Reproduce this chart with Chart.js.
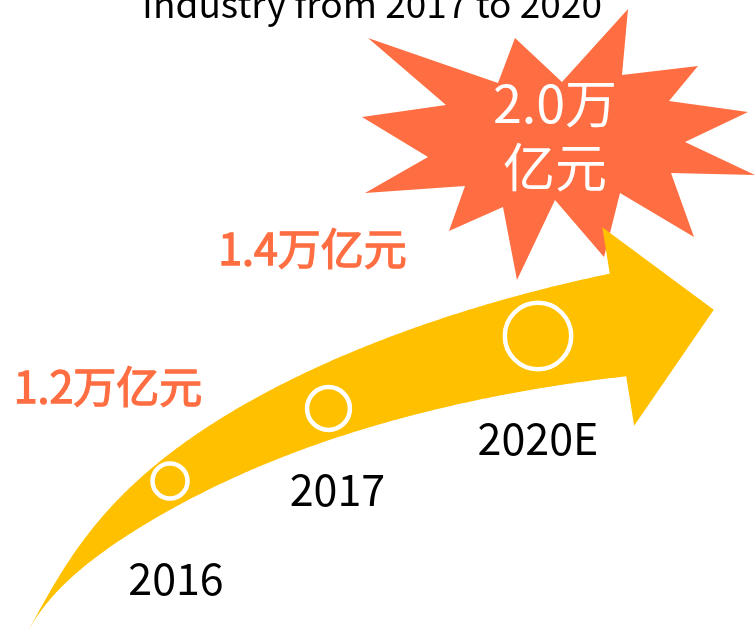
<!DOCTYPE html>
<html>
<head>
<meta charset="utf-8">
<script src="https://cdn.jsdelivr.net/npm/chart.js@4.4.1/dist/chart.umd.min.js"></script>
<style>
  html, body { margin: 0; padding: 0; background: #fff; }
  #wrap { width: 755px; height: 631px; position: relative; overflow: hidden; }
</style>
</head>
<body>
<div id="wrap"><canvas id="chartGrowth"></canvas></div>
<script>
// ---- data
const title = "Industry from 2017 to 2020";
const years = ["2016", "2017", "2020E"];
const yearNums = [2016, 2017, 2020];
const values = [1.2, 1.4, 2.0];
const unit = "万亿元";

// ---- styles
const yellow = "#FFC000";
const orange = "#FF6E42";
const font = '"Noto Sans CJK SC", "Noto Sans", sans-serif';

// label placement relative to each point (x center, text baseline)
const valueLabelPos = [
  { dx: -62, dy: -78 },
  { dx: -16, dy: -144 },
  { dx: 17, dy: -213, dy2: -149 },
];
const yearLabelPos = [
  { dx: 6, dy: 114 },
  { dx: 9, dy: 97 },
  { dx: 0, dy: 119 },
];

// starburst outline around the 2020E callout, relative to that point
const star = [
  [-170, -298], [-40, -253], [-23, -298], [24, -254], [90, -327], [84, -261],
  [160, -270], [131, -235], [210, -224], [147, -194], [217, -161], [133, -163],
  [156, -99], [82, -143], [66, -79], [17, -136], [-21, -56], [-35, -129],
  [-89, -105], [-73, -150], [-173, -143], [-110, -179], [-176, -219], [-92, -231],
];

///////// helpers
function dist(a, b) {
  return Math.hypot(b.x - a.x, b.y - a.y) || 1e-6;
}

function bezier(T, C1, C2, H) {
  return (t) => {
    const m = 1 - t;
    const b0 = m * m * m, b1 = 3 * m * m * t, b2 = 3 * m * t * t, b3 = t * t * t;
    return {
      x: b0 * T.x + b1 * C1.x + b2 * C2.x + b3 * H.x,
      y: b0 * T.y + b1 * C1.y + b2 * C2.y + b3 * H.y,
    };
  };
}

// one smooth cubic from first to last point, weighted least squares on the inner
// points, refined by re-projecting the points on the curve a few times
function fitCubic(q, weights) {
  const n = q.length;
  const T = q[0], H = q[n - 1];
  const len = [0];
  for (let i = 1; i < n; i++) len.push(len[i - 1] + dist(q[i - 1], q[i]));
  let params = len.map((l) => l / len[n - 1]);
  let curve;
  for (let iter = 0; iter < 10; iter++) {
    let a11 = 0, a12 = 0, a22 = 0;
    const r1 = { x: 0, y: 0 }, r2 = { x: 0, y: 0 };
    for (let i = 1; i < n - 1; i++) {
      const t = params[i], m = 1 - t, w = weights[i - 1];
      const b0 = m * m * m, b1 = 3 * m * m * t, b2 = 3 * m * t * t, b3 = t * t * t;
      const rx = q[i].x - b0 * T.x - b3 * H.x;
      const ry = q[i].y - b0 * T.y - b3 * H.y;
      a11 += w * b1 * b1; a12 += w * b1 * b2; a22 += w * b2 * b2;
      r1.x += w * b1 * rx; r1.y += w * b1 * ry;
      r2.x += w * b2 * rx; r2.y += w * b2 * ry;
    }
    const det = a11 * a22 - a12 * a12;
    const C1 = { x: (a22 * r1.x - a12 * r2.x) / det, y: (a22 * r1.y - a12 * r2.y) / det };
    const C2 = { x: (a11 * r2.x - a12 * r1.x) / det, y: (a11 * r2.y - a12 * r1.y) / det };
    curve = bezier(T, C1, C2, H);
    params = params.map((p, i) => {
      if (i === 0 || i === n - 1) return p;
      let best = p, bd = Infinity;
      for (let k = 1; k < 1000; k++) {
        const d = dist(curve(k / 1000), q[i]);
        if (d < bd) { bd = d; best = k / 1000; }
      }
      return best;
    });
  }
  return curve;
}

function drawArrow(ctx, pts) {
  const p1 = pts[0], p3 = pts[pts.length - 1];
  const tail = { x: p1.x - 143, y: p1.y + 152 };
  const head = { x: p3.x + 80, y: p3.y - 11 };
  const curve = fitCubic([tail, ...pts.map((p) => ({ x: p.x, y: p.y })), head], [2, 1, 1.5]);

  const c = [];
  for (let i = 0; i <= 300; i++) c.push(curve(i / 300));
  const s = [0];
  for (let i = 1; i < c.length; i++) s.push(s[i - 1] + dist(c[i - 1], c[i]));
  const L = s[s.length - 1];
  const wMax = 52;
  const half = (u) => wMax * Math.pow(u, 0.62) * (1 - Math.exp(-Math.pow(u / 0.15, 1.5)));

  const upper = [], lower = [];
  let tx = 1, ty = 0;
  for (let i = 0; i < c.length; i++) {
    const a = c[Math.max(0, i - 1)], b = c[Math.min(c.length - 1, i + 1)];
    const d = dist(a, b);
    tx = (b.x - a.x) / d;
    ty = (b.y - a.y) / d;
    const w = half(s[i] / L);
    upper.push({ x: c[i].x + ty * w, y: c[i].y - tx * w });
    lower.push({ x: c[i].x - ty * w, y: c[i].y + tx * w });
  }
  const nx = ty, ny = -tx; // normal pointing to upper side
  const uEnd = upper[upper.length - 1], lEnd = lower[lower.length - 1];
  const end = c[c.length - 1];

  ctx.save();
  ctx.fillStyle = yellow;
  ctx.beginPath();
  ctx.moveTo(upper[0].x, upper[0].y);
  upper.forEach((p) => ctx.lineTo(p.x, p.y));
  ctx.lineTo(uEnd.x + nx * 47, uEnd.y + ny * 47);
  ctx.lineTo(end.x + tx * 97, end.y + ty * 97);
  ctx.lineTo(lEnd.x - nx * 50, lEnd.y - ny * 50);
  for (let i = lower.length - 1; i >= 0; i--) ctx.lineTo(lower[i].x, lower[i].y);
  ctx.closePath();
  ctx.fill();
  ctx.restore();
}

function drawStar(ctx, p) {
  ctx.save();
  ctx.fillStyle = orange;
  ctx.beginPath();
  star.forEach(([dx, dy], i) => {
    if (i === 0) ctx.moveTo(p.x + dx, p.y + dy);
    else ctx.lineTo(p.x + dx, p.y + dy);
  });
  ctx.closePath();
  ctx.fill();
  ctx.restore();
}

///////// plugin: arrow, starburst and texts
const infographic = {
  id: "infographic",
  beforeDatasetsDraw(chart) {
    const ctx = chart.ctx;
    const pts = chart.getDatasetMeta(0).data;
    drawStar(ctx, pts[pts.length - 1]);
    drawArrow(ctx, pts);
  },
  afterDatasetsDraw(chart) {
    const ctx = chart.ctx;
    const pts = chart.getDatasetMeta(0).data;
    ctx.save();
    ctx.textAlign = "center";
    ctx.textBaseline = "alphabetic";

    // title (only its lower part fits in the frame)
    ctx.fillStyle = "#000";
    ctx.font = `37px ${font}`;
    ctx.fillText(title, 372, 18);

    // year labels
    ctx.font = `43px ${font}`;
    years.forEach((y, i) => {
      const p = pts[i], o = yearLabelPos[i];
      ctx.fillText(y, p.x + o.dx, p.y + o.dy);
    });

    // value labels
    values.forEach((v, i) => {
      const p = pts[i], o = valueLabelPos[i];
      if (i === values.length - 1) {
        ctx.fillStyle = "#fff";
        ctx.font = `52px ${font}`;
        ctx.fillText(v.toFixed(1) + unit[0], p.x + o.dx, p.y + o.dy);
        ctx.fillText(unit.slice(1), p.x + o.dx, p.y + o.dy2);
      } else {
        // a thin outline gives the medium weight of the original
        ctx.fillStyle = orange;
        ctx.strokeStyle = orange;
        ctx.lineWidth = 1.3;
        ctx.font = `43px ${font}`;
        ctx.fillText(v.toFixed(1) + unit, p.x + o.dx, p.y + o.dy);
        ctx.strokeText(v.toFixed(1) + unit, p.x + o.dx, p.y + o.dy);
      }
    });
    ctx.restore();
  },
};

const ctx = document.getElementById("chartGrowth").getContext("2d");
const chart = new Chart(ctx, {
  type: "scatter",
  data: {
    datasets: [
      {
        data: years.map((y, i) => ({ x: yearNums[i] - 2015, y: values[i].toFixed(1) })),
        pointRadius: (c) => 19.6 * values[c.dataIndex] - 6,
        pointHoverRadius: (c) => 19.6 * values[c.dataIndex] - 6,
        pointBorderWidth: 4.5,
        pointBorderColor: "#fff",
        pointBackgroundColor: "rgba(0,0,0,0)",
        clip: false,
      },
    ],
  },
  options: {
    responsive: true,
    maintainAspectRatio: false,
    animation: false,
    events: [],
    layout: { padding: { left: 170, right: 217, top: 336, bottom: 150 } },
    scales: {
      // years since 2015 on a log axis
      x: { type: "logarithmic", min: 1, max: 5, display: false },
      y: {
        type: "category",
        labels: values.map((v) => v.toFixed(1)).reverse(),
        display: false,
      },
    },
    plugins: {
      legend: { display: false },
      tooltip: { enabled: false },
      title: { display: false },
    },
  },
  plugins: [infographic],
});
</script>
</body>
</html>
